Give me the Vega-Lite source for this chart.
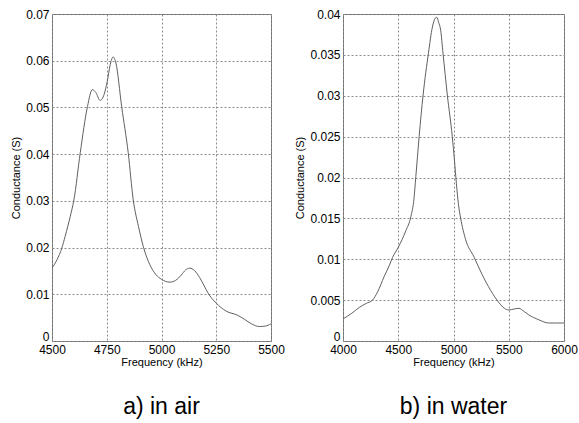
{
  "$schema": "https://vega.github.io/schema/vega-lite/v6.json",
  "padding": {"left": 10, "top": 7, "right": 8, "bottom": 2},
  "background": "white",
  "bounds": "flush",
  "spacing": 72,
  "config": {
    "font": "Liberation Sans",
    "view": {"stroke": "#6e6e6e", "strokeWidth": 1},
    "axis": {
      "labelFont": "Liberation Sans", "labelFontSize": 12, "labelColor": "#000",
      "titleFont": "Liberation Sans", "titleFontSize": 11, "titleFontWeight": "normal", "titleColor": "#000",
      "grid": true, "gridColor": "#8a8a8a", "gridDash": [2, 2], "gridOpacity": 1, "gridWidth": 1,
      "domain": false, "ticks": false, "labelPadding": 3
    },
    "title": {"fontSize": 23, "fontWeight": "normal", "font": "Liberation Sans", "color": "#000", "orient": "bottom", "anchor": "middle", "offset": 29}
  },
  "datasets": {
    "air": [
      {"f": 4500, "g": 0.0156}, {"f": 4523, "g": 0.0174}, {"f": 4545, "g": 0.0199}, {"f": 4560, "g": 0.0224},
      {"f": 4583, "g": 0.0266}, {"f": 4600, "g": 0.0302}, {"f": 4629, "g": 0.0403}, {"f": 4662, "g": 0.0502},
      {"f": 4684, "g": 0.0538}, {"f": 4700, "g": 0.0532}, {"f": 4720, "g": 0.0515}, {"f": 4738, "g": 0.0528},
      {"f": 4752, "g": 0.0555}, {"f": 4766, "g": 0.0592}, {"f": 4779, "g": 0.0608}, {"f": 4792, "g": 0.0595},
      {"f": 4818, "g": 0.0502}, {"f": 4848, "g": 0.0403}, {"f": 4871, "g": 0.0302}, {"f": 4895, "g": 0.0245},
      {"f": 4917, "g": 0.0202}, {"f": 4947, "g": 0.0163}, {"f": 4975, "g": 0.0142}, {"f": 5000, "g": 0.0132},
      {"f": 5038, "g": 0.0126}, {"f": 5065, "g": 0.0130}, {"f": 5090, "g": 0.0141}, {"f": 5110, "g": 0.0152},
      {"f": 5129, "g": 0.0156}, {"f": 5150, "g": 0.0151}, {"f": 5174, "g": 0.0136}, {"f": 5195, "g": 0.0118},
      {"f": 5212, "g": 0.0103}, {"f": 5250, "g": 0.0081}, {"f": 5295, "g": 0.0064}, {"f": 5348, "g": 0.0055},
      {"f": 5380, "g": 0.0046}, {"f": 5410, "g": 0.0037}, {"f": 5447, "g": 0.0031}, {"f": 5475, "g": 0.0032},
      {"f": 5500, "g": 0.0037}
    ],
    "water": [
      {"f": 4000, "g": 0.0027}, {"f": 4080, "g": 0.0034}, {"f": 4147, "g": 0.0041}, {"f": 4210, "g": 0.0046},
      {"f": 4267, "g": 0.0050}, {"f": 4313, "g": 0.0060}, {"f": 4373, "g": 0.0079}, {"f": 4418, "g": 0.0092},
      {"f": 4448, "g": 0.0102}, {"f": 4502, "g": 0.0115}, {"f": 4569, "g": 0.0135}, {"f": 4614, "g": 0.0152},
      {"f": 4643, "g": 0.0175}, {"f": 4659, "g": 0.0201}, {"f": 4673, "g": 0.0224}, {"f": 4689, "g": 0.0250},
      {"f": 4725, "g": 0.0301}, {"f": 4773, "g": 0.0352}, {"f": 4809, "g": 0.0384}, {"f": 4835, "g": 0.0395},
      {"f": 4848, "g": 0.0396}, {"f": 4865, "g": 0.0390}, {"f": 4884, "g": 0.0380}, {"f": 4905, "g": 0.0352},
      {"f": 4944, "g": 0.0301}, {"f": 4989, "g": 0.0250}, {"f": 5008, "g": 0.0222}, {"f": 5026, "g": 0.0193},
      {"f": 5044, "g": 0.0168}, {"f": 5065, "g": 0.0150}, {"f": 5110, "g": 0.0124}, {"f": 5185, "g": 0.0103},
      {"f": 5260, "g": 0.0081}, {"f": 5336, "g": 0.0062}, {"f": 5411, "g": 0.0047}, {"f": 5460, "g": 0.0040},
      {"f": 5501, "g": 0.0038}, {"f": 5545, "g": 0.0039}, {"f": 5591, "g": 0.0040}, {"f": 5640, "g": 0.0036},
      {"f": 5681, "g": 0.0032}, {"f": 5772, "g": 0.0026}, {"f": 5862, "g": 0.0022}, {"f": 5930, "g": 0.0022},
      {"f": 6000, "g": 0.0022}
    ]
  },
  "hconcat": [
    {
      "width": 219, "height": 327,
      "title": {"text": "a) in air"},
      "data": {"name": "air"},
      "mark": {"type": "line", "color": "#606060", "strokeWidth": 1, "interpolate": "monotone", "clip": true},
      "encoding": {
        "x": {"field": "f", "type": "quantitative", "scale": {"domain": [4500, 5500], "nice": false, "zero": false},
              "axis": {"values": [4500, 4750, 5000, 5250, 5500], "format": "d", "title": "Frequency (kHz)", "titlePadding": 1, "labelPadding": 3, "labelFlush": false}},
        "y": {"field": "g", "type": "quantitative", "scale": {"domain": [0, 0.07], "nice": false},
              "axis": {"values": [0, 0.01, 0.02, 0.03, 0.04, 0.05, 0.06, 0.07], "format": "~g", "title": "Conductance (S)", "titlePadding": 4,
                       "labelOffset": {"condition": {"test": "datum.value == 0", "value": -5}, "value": 0}}}
      }
    },
    {
      "width": 221, "height": 327,
      "title": {"text": "b) in water"},
      "data": {"name": "water"},
      "mark": {"type": "line", "color": "#606060", "strokeWidth": 1, "interpolate": "monotone", "clip": true},
      "encoding": {
        "x": {"field": "f", "type": "quantitative", "scale": {"domain": [4000, 6000], "nice": false, "zero": false},
              "axis": {"values": [4000, 4500, 5000, 5500, 6000], "format": "d", "title": "Frequency (kHz)", "titlePadding": 1, "labelPadding": 3, "labelFlush": false}},
        "y": {"field": "g", "type": "quantitative", "scale": {"domain": [0, 0.04], "nice": false},
              "axis": {"values": [0, 0.005, 0.01, 0.015, 0.02, 0.025, 0.03, 0.035, 0.04], "format": "~g", "title": "Conductance (S)", "titlePadding": 4,
                       "labelOffset": {"condition": {"test": "datum.value == 0", "value": -5}, "value": 0}}}
      }
    }
  ]
}
